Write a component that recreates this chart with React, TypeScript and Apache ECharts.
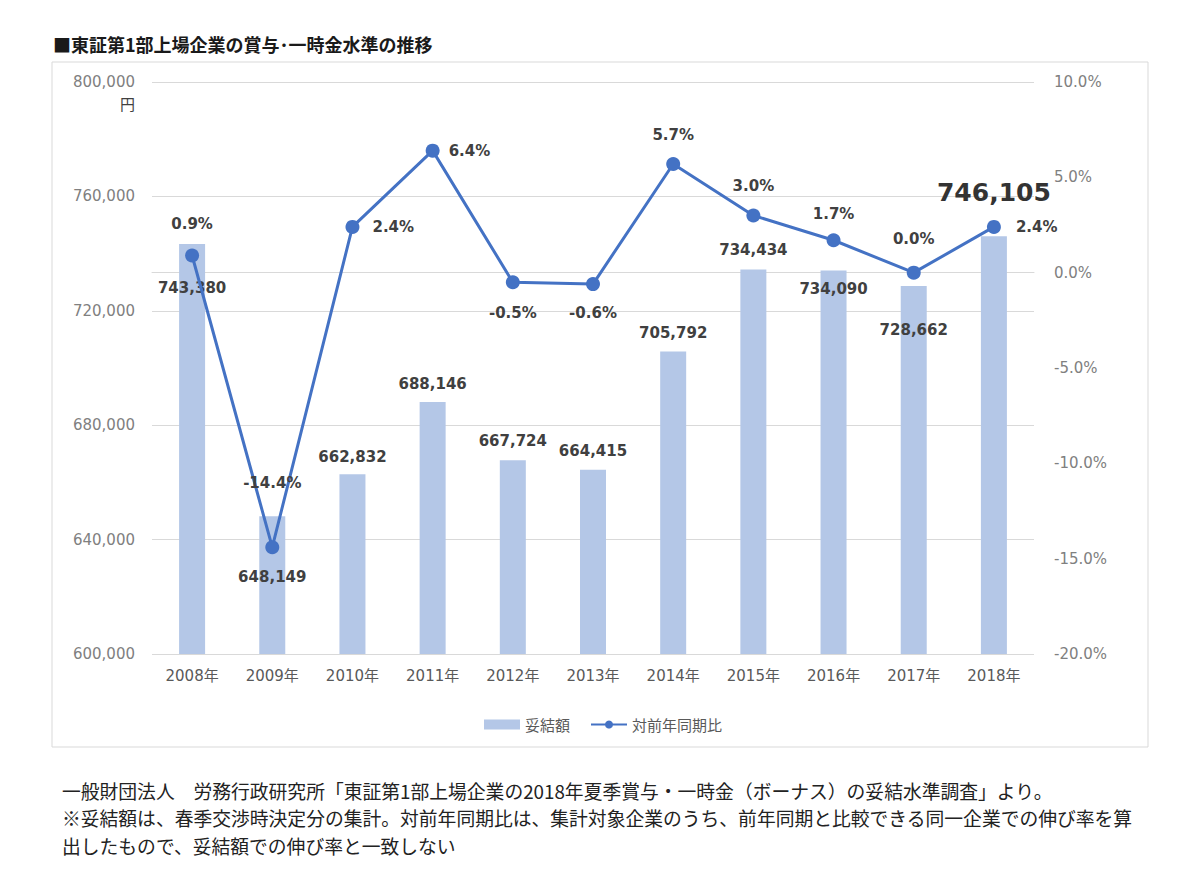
import React, { useEffect, useRef } from "react";
import * as echarts from "echarts";

const categories = ["2008年", "2009年", "2010年", "2011年", "2012年", "2013年", "2014年", "2015年", "2016年", "2017年", "2018年"];
const settlementAmounts = [743380, 648149, 662832, 688146, 667724, 664415, 705792, 734434, 734090, 728662, 746105];
const yoyRates = [0.9, -14.4, 2.4, 6.4, -0.5, -0.6, 5.7, 3.0, 1.7, 0.0, 2.4];
const seriesNames = ["妥結額", "対前年同期比"];
const titleText = "■東証第1部上場企業の賞与･一時金水準の推移";
const unitText = "円";
const footnotes = [
  "一般財団法人　労務行政研究所「東証第1部上場企業の2018年夏季賞与・一時金（ボーナス）の妥結水準調査」より。",
  "※妥結額は、春季交渉時決定分の集計。対前年同期比は、集計対象企業のうち、前年同期と比較できる同一企業での伸び率を算",
  "出したもので、妥結額での伸び率と一致しない",
];

// label placement (style only)
const barLabelPos = ["insideTop", "insideTop", "top", "top", "top", "top", "top", "top", "insideTop", "insideTop", "top"];
const barLabelDist = [37, 53, 10, 10, 12, 11, 11, 12, 11, 36, 31];
const lineLabelPos = ["top", "top", "right", "right", "bottom", "bottom", "top", "top", "top", "top", "right"];
const lineLabelDist = [17, 50, 13, 9, 16, 14, 14, 15, 12, 19, 15];

const LABEL_COLOR = "#404040";
const NUM_FONT = "'DejaVu Sans', 'Noto Sans CJK JP', sans-serif";
const JP_FONT = "'Noto Sans CJK JP', sans-serif";

export default function App() {
  const ref = useRef<HTMLDivElement>(null);
  useEffect(() => {
    if (!ref.current) return;
    const chart = echarts.init(ref.current, undefined, { renderer: "svg" });
    const barData = settlementAmounts.map((v, i) => {
      const last = i === settlementAmounts.length - 1;
      return {
        value: v,
        label: {
          show: true,
          position: barLabelPos[i],
          distance: barLabelDist[i],
          color: last ? "#333" : LABEL_COLOR,
          fontFamily: NUM_FONT,
          fontWeight: "bold",
          fontSize: last ? 25 : 15,
          formatter: (p: any) => Number(p.value).toLocaleString("en-US"),
        },
      };
    });
    const lineData = yoyRates.map((v, i) => ({
      value: v,
      label: {
        show: true,
        position: lineLabelPos[i],
        distance: lineLabelDist[i],
        color: LABEL_COLOR,
        fontFamily: NUM_FONT,
        fontWeight: "bold",
        fontSize: 15,
        formatter: (p: any) => Number(p.value).toFixed(1) + "%",
      },
    }));
    chart.setOption({
      animation: false,
      backgroundColor: "#ffffff",
      grid: { left: 152, right: 166, top: 82, bottom: 234, containLabel: false },
      legend: {
        data: [
          { name: seriesNames[0], icon: "rect" },
          { name: seriesNames[1] },
        ],
        left: 479,
        top: 712,
        itemWidth: 36,
        itemHeight: 10,
        itemGap: 20,
        textStyle: { color: "#595959", fontSize: 15, fontFamily: JP_FONT },
      },
      xAxis: {
        type: "category",
        data: categories,
        axisLine: { lineStyle: { color: "#d9d9d9", width: 1 } },
        axisTick: { show: false },
        axisLabel: { color: "#595959", fontSize: 15, fontFamily: NUM_FONT, margin: 14 },
      },
      yAxis: [
        {
          type: "value",
          min: 600000,
          max: 800000,
          interval: 40000,
          axisLine: { show: false },
          axisTick: { show: false },
          splitLine: { lineStyle: { color: "#d9d9d9", width: 1 } },
          axisLabel: {
            color: "#808080",
            fontSize: 15,
            fontFamily: NUM_FONT,
            margin: 17,
            formatter: (v: number) => v.toLocaleString("en-US"),
          },
        },
        {
          type: "value",
          min: -20,
          max: 10,
          interval: 5,
          position: "right",
          axisLine: { show: false },
          axisTick: { show: false },
          splitLine: { show: false },
          axisLabel: {
            color: "#808080",
            fontSize: 15,
            fontFamily: NUM_FONT,
            margin: 20,
            formatter: (v: number) => v.toFixed(1) + "%",
          },
        },
      ],
      series: [
        {
          name: seriesNames[0],
          type: "bar",
          yAxisIndex: 0,
          barWidth: 26,
          itemStyle: { color: "#b4c7e7" },
          data: barData,
          z: 2,
        },
        {
          name: seriesNames[1],
          type: "line",
          yAxisIndex: 1,
          symbol: "circle",
          symbolSize: 14,
          lineStyle: { color: "#4472c4", width: 3 },
          itemStyle: { color: "#4472c4" },
          data: lineData,
          z: 3,
        },
      ],
      graphic: [
        {
          type: "rect",
          shape: { x: 52, y: 62, width: 1096, height: 685 },
          style: { fill: "none", stroke: "#d9d9d9", lineWidth: 1 },
          z: -1,
          silent: true,
        },
        {
          type: "text",
          left: 53,
          top: 35,
          style: { text: titleText, fill: "#1a1a1a", font: `bold 18px ${JP_FONT}` },
        },
        {
          type: "text",
          x: 135,
          y: 103,
          style: { text: unitText, fill: "#404040", font: `15px ${JP_FONT}`, align: "right", verticalAlign: "middle" },
        },
        ...footnotes.map((t, i) => ({
          type: "text",
          x: 62,
          y: 790 + i * 27.5,
          style: { text: t, fill: "#222222", font: `18.8px ${JP_FONT}`, verticalAlign: "middle" },
        })),
      ],
    });
    return () => chart.dispose();
  }, []);
  return <div ref={ref} style={{ position: "absolute", left: 0, top: 0, width: 1200, height: 888 }} />;
}
